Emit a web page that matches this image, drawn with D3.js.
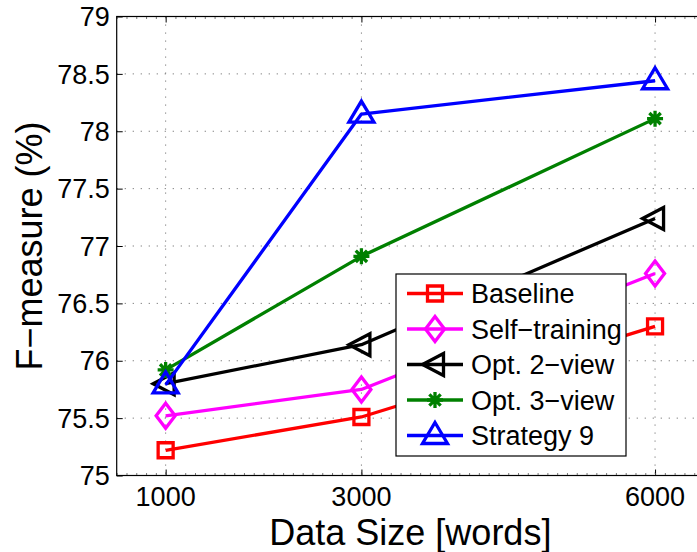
<!DOCTYPE html>
<html>
<head>
<meta charset="utf-8">
<script src="https://cdn.jsdelivr.net/npm/d3@7"></script>
<style>
  html, body { margin: 0; padding: 0; background: #fff; }
  svg { display: block; font-family: "Liberation Sans", Arial, Helvetica, sans-serif; }
</style>
</head>
<body>
<svg id="chart" width="697" height="552"></svg>
<script>
// Data size in words (x) and F-measure in percent (y)
const dataSizes = [1000, 3000, 6000];
const xTicks = [1000, 3000, 6000];
const yTicks = [75, 75.5, 76, 76.5, 77, 77.5, 78, 78.5, 79];
const seriesNames = ["Baseline", "Self\u2212training", "Opt. 2\u2212view", "Opt. 3\u2212view", "Strategy 9"];
const baseline     = [75.22, 75.51, 76.30];
const selfTraining = [75.52, 75.75, 76.76];
const opt2View     = [75.80, 76.14, 77.24];
const opt3View     = [75.92, 76.91, 78.11];
const strategy9    = [75.79, 78.15, 78.44];

const series = [
  { name: seriesNames[0], values: baseline,     color: "#ff0000", marker: "square" },
  { name: seriesNames[1], values: selfTraining, color: "#ff00ff", marker: "diamond" },
  { name: seriesNames[2], values: opt2View,     color: "#000000", marker: "triLeft" },
  { name: seriesNames[3], values: opt3View,     color: "#008000", marker: "star" },
  { name: seriesNames[4], values: strategy9,    color: "#0000ff", marker: "triUp" }
];

const svg = d3.select("#chart");
const plotLeft = 116.7, plotRight = 704, plotTop = 16.5, plotBottom = 475.5;

const x = d3.scaleLinear().domain([500, 6500]).range([plotLeft, plotRight]);
const y = d3.scaleLinear().domain([75, 79]).range([plotBottom, plotTop]);

// dotted grid
const grid = svg.append("g").attr("stroke", "#777").attr("stroke-width", 1)
  .attr("stroke-dasharray", "1.2,6.8");
grid.selectAll("line.gx").data(xTicks).join("line")
  .attr("x1", d => x(d)).attr("x2", d => x(d)).attr("y1", plotTop).attr("y2", plotBottom);
grid.selectAll("line.gy").data(yTicks.slice(1, -1)).join("line")
  .attr("x1", plotLeft).attr("x2", plotRight).attr("y1", d => y(d)).attr("y2", d => y(d));

// axes (ticks pointing inward, mirrored on the opposite sides)
const tickLen = 6;
const axisG = svg.append("g");
axisG.append("g").attr("transform", `translate(${plotLeft},0)`)
  .call(d3.axisRight(y).tickValues(yTicks).tickSize(tickLen).tickFormat(""));
axisG.append("g").attr("transform", `translate(${plotRight},0)`)
  .call(d3.axisLeft(y).tickValues(yTicks).tickSize(tickLen).tickFormat(""));
axisG.append("g").attr("transform", `translate(0,${plotBottom})`)
  .call(d3.axisTop(x).tickValues(xTicks).tickSize(tickLen).tickFormat(""));
axisG.append("g").attr("transform", `translate(0,${plotTop})`)
  .call(d3.axisBottom(x).tickValues(xTicks).tickSize(tickLen).tickFormat(""));
const minorX = d3.range(500, 6501, 100);
const xBottomMinor = axisG.append("g").attr("transform", `translate(0,${plotBottom})`)
  .call(d3.axisTop(x).tickValues(minorX).tickSize(2.5).tickFormat(""));
const xTopMinor = axisG.append("g").attr("transform", `translate(0,${plotTop})`)
  .call(d3.axisBottom(x).tickValues(minorX).tickSize(2.5).tickFormat(""));
[xBottomMinor, xTopMinor].forEach(g => {
  g.selectAll(".tick line").attr("stroke", "#555").attr("stroke-width", 0.8);
});
axisG.selectAll(".domain").remove();
axisG.selectAll(".tick text").remove();

// tick labels
const labels = svg.append("g").attr("font-size", 27).attr("fill", "#000");
labels.selectAll("text.yl").data(yTicks).join("text")
  .attr("x", plotLeft - 7).attr("y", d => y(d)).attr("dy", "0.36em")
  .attr("text-anchor", "end").text(d => d3.format("")(d));
labels.selectAll("text.xl").data(xTicks).join("text")
  .attr("x", d => x(d)).attr("y", plotBottom + 30)
  .attr("text-anchor", "middle").text(d => d);

// axis titles
svg.append("text").attr("x", (plotLeft + plotRight) / 2).attr("y", 545)
  .attr("text-anchor", "middle").attr("font-size", 36).text("Data Size [words]");
svg.append("text")
  .attr("transform", `translate(42,${(plotTop + plotBottom) / 2}) rotate(-90)`)
  .attr("text-anchor", "middle").attr("font-size", 36).text("F\u2212measure (%)");

// marker shapes
function markerPath(kind) {
  switch (kind) {
    case "square":  return "M-7.5,-7.5H7.5V7.5H-7.5Z";
    case "diamond": return "M0,-12.5L9.5,0L0,12.5L-9.5,0Z";
    case "triLeft": return "M-12.5,0L8.5,-11L8.5,11Z";
    case "triUp":   return "M0,-13L12.5,8L-12.5,8Z";
    case "star": {
      const r = 8, d = r * Math.SQRT1_2;
      return `M${-r},0H${r}M0,${-r}V${r}M${-d},${-d}L${d},${d}M${-d},${d}L${d},${-d}`;
    }
  }
}

// series lines and markers
const line = d3.line().x((d, i) => x(dataSizes[i])).y(d => y(d));
const plot = svg.append("g");
series.forEach(s => {
  const g = plot.append("g");
  g.append("path").attr("d", line(s.values)).attr("fill", "none")
    .attr("stroke", s.color).attr("stroke-width", 3.3).attr("stroke-linejoin", "round");
  g.selectAll("path.m").data(s.values).join("path")
    .attr("transform", (d, i) => `translate(${x(dataSizes[i])},${y(d)})`)
    .attr("d", markerPath(s.marker)).attr("fill", "none")
    .attr("stroke", s.color).attr("stroke-width", 3.3);
});

// axis frame
svg.append("rect").attr("x", plotLeft).attr("y", plotTop)
  .attr("width", plotRight - plotLeft).attr("height", plotBottom - plotTop)
  .attr("fill", "none").attr("stroke", "#000").attr("stroke-width", 1.2);

// legend
const lg = svg.append("g");
lg.append("rect").attr("x", 396).attr("y", 274).attr("width", 230).attr("height", 182)
  .attr("fill", "#fff").attr("stroke", "#000").attr("stroke-width", 1.2);
series.forEach((s, i) => {
  const cy = 293.5 + i * 35.5;
  lg.append("line").attr("x1", 407).attr("x2", 463).attr("y1", cy).attr("y2", cy)
    .attr("stroke", s.color).attr("stroke-width", 3.3);
  lg.append("path").attr("transform", `translate(435,${cy})`)
    .attr("d", markerPath(s.marker)).attr("fill", "none")
    .attr("stroke", s.color).attr("stroke-width", 3.3);
  lg.append("text").attr("x", 471).attr("y", cy).attr("dy", "0.36em")
    .attr("font-size", 27).text(s.name);
});
</script>
</body>
</html>
